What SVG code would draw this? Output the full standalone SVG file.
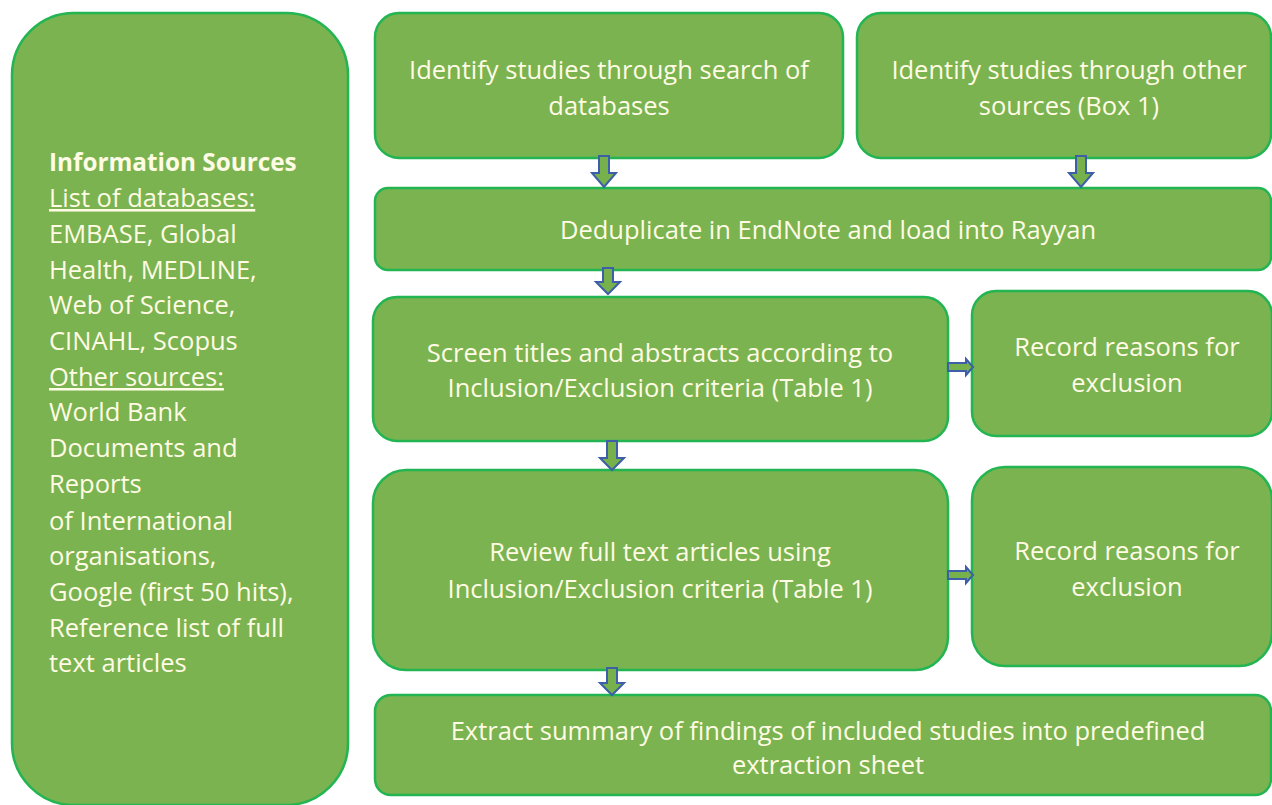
<svg xmlns="http://www.w3.org/2000/svg" width="1272" height="805" viewBox="0 0 1272 805">
<defs>
<style>
.box{fill:#7ab350;stroke:#22b552;stroke-width:2.5}
.t{font-family:"Open Sans","Noto Sans","Liberation Sans",sans-serif;font-size:25.5px;fill:#fffbe4;text-anchor:middle}
.l{font-family:"Open Sans","Noto Sans","Liberation Sans",sans-serif;font-size:25.5px;fill:#fffbe4}
.b{font-weight:bold;font-size:24.3px}
.arr{fill:#76b14b;stroke:#3d5ea8;stroke-width:2;stroke-linejoin:miter}
</style>
</defs>
<rect width="1272" height="805" fill="#ffffff"/>
<g id="sources">
<rect class="box" x="12" y="13" width="336" height="792" rx="62"/>
<text class="l b" x="49" y="171">Information Sources</text>
<text class="l" x="49" y="207" text-decoration="underline">List of databases:</text>
<text class="l" x="49" y="243">EMBASE, Global</text>
<text class="l" x="49" y="279">Health, MEDLINE,</text>
<text class="l" x="49" y="314">Web of Science,</text>
<text class="l" x="49" y="350">CINAHL, Scopus</text>
<text class="l" x="49" y="386" text-decoration="underline">Other sources:</text>
<text class="l" x="49" y="421">World Bank</text>
<text class="l" x="49" y="457">Documents and</text>
<text class="l" x="49" y="493">Reports</text>
<text class="l" x="49" y="530">of International</text>
<text class="l" x="49" y="565">organisations,</text>
<text class="l" x="49" y="601">Google (first 50 hits),</text>
<text class="l" x="49" y="637">Reference list of full</text>
<text class="l" x="49" y="672">text articles</text>
</g>
<g id="search-db">
<rect class="box" x="375" y="13" width="468" height="145" rx="24"/>
<text class="t" x="609" y="79">Identify studies through search of</text>
<text class="t" x="609" y="115">databases</text>
</g>
<g id="other-sources">
<rect class="box" x="857" y="13" width="414" height="145" rx="24"/>
<text class="t" x="1069" y="79">Identify studies through other</text>
<text class="t" x="1069" y="115">sources (Box 1)</text>
</g>
<g id="dedup">
<rect class="box" x="375" y="188" width="896" height="82" rx="13"/>
<text class="t" x="828" y="239">Deduplicate in EndNote and load into Rayyan</text>
</g>
<g id="screen">
<rect class="box" x="373" y="297" width="575" height="144" rx="24"/>
<text class="t" x="660" y="362">Screen titles and abstracts according to</text>
<text class="t" x="660" y="397">Inclusion/Exclusion criteria (Table 1)</text>
</g>
<g id="record1">
<rect class="box" x="972" y="291" width="300" height="145" rx="24"/>
<text class="t" x="1127" y="356">Record reasons for</text>
<text class="t" x="1127" y="392">exclusion</text>
</g>
<g id="review">
<rect class="box" x="373" y="470" width="575" height="200" rx="33"/>
<text class="t" x="660" y="561">Review full text articles using</text>
<text class="t" x="660" y="598">Inclusion/Exclusion criteria (Table 1)</text>
</g>
<g id="record2">
<rect class="box" x="972" y="467" width="300" height="199" rx="33"/>
<text class="t" x="1127" y="560">Record reasons for</text>
<text class="t" x="1127" y="596">exclusion</text>
</g>
<g id="extract">
<rect class="box" x="375" y="695" width="896" height="100" rx="16"/>
<text class="t" x="828" y="740">Extract summary of findings of included studies into predefined</text>
<text class="t" x="828" y="774">extraction sheet</text>
</g>
<g id="connectors">
<path class="arr" d="M599,156 H609 V173 H616 L604,187 L592,173 H599 Z"/>
<path class="arr" d="M1076,156 H1086 V173 H1093 L1081,187 L1069,173 H1076 Z"/>
<path class="arr" d="M603,268 H613 V282 H620 L608,294 L596,282 H603 Z"/>
<path class="arr" d="M607,441 H617 V458 H624 L612,470 L600,458 H607 Z"/>
<path class="arr" d="M607,668 H617 V683 H624 L612,695 L600,683 H607 Z"/>
<path class="arr" d="M948,363 H966 V359 L973,367 L966,375 V371 H948 Z"/>
<path class="arr" d="M948,571 H966 V567 L973,575 L966,583 V579 H948 Z"/>
</g>
</svg>
